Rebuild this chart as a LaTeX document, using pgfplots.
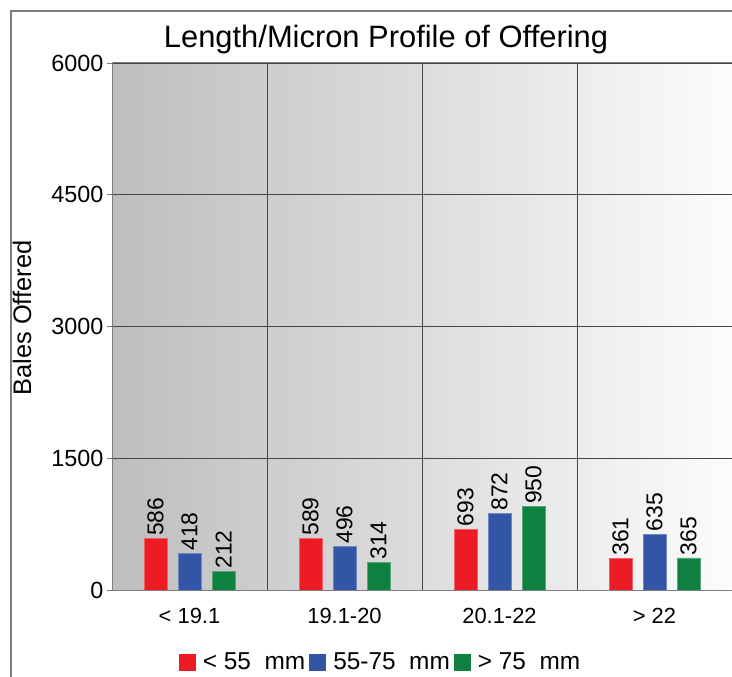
\documentclass[border=0pt]{standalone}
\usepackage{pgfplots}
\pgfplotsset{compat=1.18}
\usepackage{fontspec}
\setmainfont{Liberation Sans}
\definecolor{bgleft}{RGB}{190,190,190}
\definecolor{bgright}{RGB}{252,252,252}
\definecolor{framegray}{RGB}{125,125,125}
\definecolor{gridgray}{RGB}{70,70,70}
\definecolor{cred}{RGB}{237,28,36}
\definecolor{cblue}{RGB}{51,85,165}
\definecolor{cgreen}{RGB}{14,128,64}
\begin{document}
\begin{tikzpicture}
\path[use as bounding box] (0,0) rectangle (732bp,677bp);
\draw[framegray, line width=1.3bp] (11bp,0) -- (11bp,666bp) -- (732bp,666bp);
\node[font=\fontsize{31}{36}\selectfont] at (386bp,637bp) {Length/Micron Profile of Offering};
\node[font=\fontsize{25.5}{30}\selectfont, rotate=90] at (22bp,359bp) {Bales Offered};
\begin{axis}[
  at={(112bp,87bp)}, anchor=south west,
  scale only axis, width=620bp, height=527bp,
  ybar=11bp, bar width=23bp,
  xmin=-0.5, xmax=3.5, ymin=0, ymax=6000,
  xtick={0,1,2,3},
  xticklabels={< 19.1,19.1-20,20.1-22,> 22},
  minor xtick={0.5,1.5,2.5},
  xminorgrids, ymajorgrids,
  minor grid style={gridgray, line width=0.8bp},
  major grid style={gridgray, line width=0.8bp},
  ytick={0,1500,3000,4500,6000},
  tick align=outside,
  major tick length=5bp,
  xtick style={draw=none},
  ytick style={framegray, line width=0.8bp},
  axis line style={framegray, line width=1bp},
  axis background/.style={shade, left color=bgleft, right color=bgright},
  /pgf/number format/.cd, assume math mode=true, 1000 sep={},
  /pgfplots/.cd,
  xticklabel style={font=\fontsize{22}{26}\selectfont, yshift=-10bp},
  yticklabel style={font=\fontsize{23.5}{28}\selectfont},
  nodes near coords,
  nodes near coords style={rotate=90, anchor=west, font=\fontsize{23}{27}\selectfont, inner sep=2.5bp},
  legend style={at={(0.434,-0.137)}, anchor=center, legend columns=3, draw=none, fill=none,
    font=\fontsize{24.5}{29}\selectfont,
    /tikz/every odd column/.append style={column sep=4bp},
    /tikz/every even column/.append style={column sep=1bp},
    nodes={inner sep=3bp}},
  legend image code/.code={\fill[#1, draw=none] (0bp,-8.5bp) rectangle (17bp,8.5bp);},
]
\addplot[fill=cred, draw=cred!70!white, line width=0.5bp] coordinates {(0,586) (1,589) (2,693) (3,361)};
\addplot[fill=cblue, draw=cblue!70!white, line width=0.5bp] coordinates {(0,418) (1,496) (2,872) (3,635)};
\addplot[fill=cgreen, draw=cgreen!70!white, line width=0.5bp] coordinates {(0,212) (1,314) (2,950) (3,365)};
\legend{< 55\ \ mm, 55-75\ \ mm, > 75\ \ mm}
\end{axis}
\end{tikzpicture}
\end{document}
